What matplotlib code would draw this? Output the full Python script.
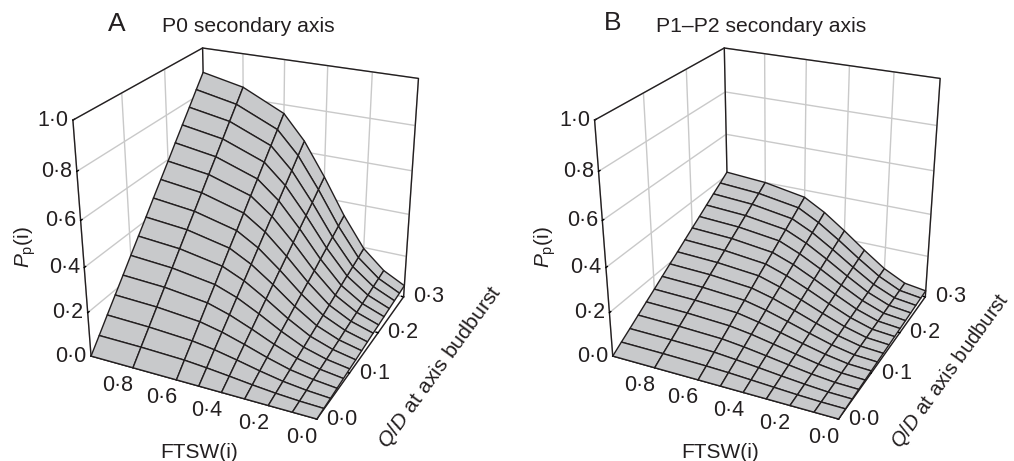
import numpy as np
import matplotlib
matplotlib.use('Agg')
import matplotlib.pyplot as plt
from matplotlib.ticker import NullFormatter
from mpl_toolkits.mplot3d import proj3d

plt.rcParams['font.family'] = ['Liberation Sans', 'DejaVu Sans']
plt.rcParams['mathtext.fontset'] = 'custom'
plt.rcParams['mathtext.rm'] = 'Liberation Sans'
plt.rcParams['mathtext.it'] = 'Liberation Sans:italic'

ftsw = [1.0, 0.8, 0.6, 0.5, 0.4, 0.3, 0.2, 0.1, 0.0]
qd = [0.0, 0.02, 0.04, 0.06, 0.08, 0.10, 0.12, 0.14, 0.16, 0.18, 0.20, 0.22, 0.24, 0.26, 0.28, 0.30]

# rows are qd, columns are ftsw
p0_axis = [
    [0.000, 0.000, 0.000, 0.000, 0.000, 0.000, 0.000, 0.000, 0.000],
    [0.059, 0.057, 0.051, 0.043, 0.033, 0.022, 0.013, 0.007, 0.004],
    [0.119, 0.113, 0.101, 0.087, 0.067, 0.045, 0.026, 0.014, 0.007],
    [0.178, 0.170, 0.152, 0.130, 0.100, 0.067, 0.039, 0.022, 0.011],
    [0.237, 0.227, 0.203, 0.173, 0.133, 0.089, 0.052, 0.029, 0.015],
    [0.297, 0.283, 0.253, 0.217, 0.167, 0.112, 0.065, 0.036, 0.019],
    [0.356, 0.340, 0.304, 0.260, 0.200, 0.134, 0.078, 0.043, 0.022],
    [0.415, 0.397, 0.355, 0.303, 0.233, 0.156, 0.091, 0.050, 0.026],
    [0.475, 0.453, 0.405, 0.347, 0.267, 0.179, 0.104, 0.058, 0.030],
    [0.534, 0.510, 0.456, 0.390, 0.300, 0.201, 0.117, 0.065, 0.034],
    [0.593, 0.567, 0.507, 0.433, 0.333, 0.223, 0.130, 0.072, 0.037],
    [0.653, 0.623, 0.557, 0.477, 0.367, 0.246, 0.143, 0.079, 0.041],
    [0.712, 0.680, 0.608, 0.520, 0.400, 0.268, 0.156, 0.086, 0.045],
    [0.771, 0.737, 0.659, 0.563, 0.433, 0.290, 0.169, 0.094, 0.049],
    [0.831, 0.793, 0.709, 0.607, 0.467, 0.313, 0.182, 0.101, 0.052],
    [0.890, 0.850, 0.760, 0.650, 0.500, 0.335, 0.195, 0.108, 0.056],
]
p1_axis = [
    [0.000, 0.000, 0.000, 0.000, 0.000, 0.000, 0.000, 0.000, 0.000],
    [0.028, 0.027, 0.024, 0.021, 0.016, 0.011, 0.006, 0.003, 0.002],
    [0.055, 0.053, 0.049, 0.041, 0.032, 0.022, 0.013, 0.006, 0.004],
    [0.083, 0.080, 0.073, 0.062, 0.048, 0.033, 0.019, 0.009, 0.006],
    [0.111, 0.107, 0.097, 0.083, 0.064, 0.044, 0.025, 0.012, 0.008],
    [0.138, 0.133, 0.122, 0.103, 0.080, 0.055, 0.032, 0.015, 0.010],
    [0.166, 0.160, 0.146, 0.124, 0.096, 0.066, 0.038, 0.018, 0.012],
    [0.194, 0.187, 0.170, 0.145, 0.112, 0.077, 0.044, 0.021, 0.014],
    [0.221, 0.213, 0.195, 0.165, 0.128, 0.088, 0.051, 0.024, 0.016],
    [0.249, 0.240, 0.219, 0.186, 0.144, 0.099, 0.057, 0.027, 0.018],
    [0.277, 0.267, 0.243, 0.207, 0.160, 0.110, 0.063, 0.030, 0.020],
    [0.304, 0.293, 0.268, 0.227, 0.176, 0.121, 0.070, 0.033, 0.022],
    [0.332, 0.320, 0.292, 0.248, 0.192, 0.132, 0.076, 0.036, 0.024],
    [0.360, 0.347, 0.316, 0.269, 0.208, 0.143, 0.082, 0.039, 0.026],
    [0.387, 0.373, 0.341, 0.289, 0.224, 0.154, 0.089, 0.042, 0.028],
    [0.415, 0.400, 0.365, 0.310, 0.240, 0.165, 0.095, 0.045, 0.030],
]

ftsw_ticks = [0.0, 0.2, 0.4, 0.6, 0.8]
qd_ticks = [0.0, 0.1, 0.2, 0.3]
p_ticks = [0.0, 0.2, 0.4, 0.6, 0.8, 1.0]

W, H = 1014, 461
ink = '#231f20'


def dot_label(v):
    return f'{v:.1f}'.replace('.', '\u00b7')


def tick_text(ax, x, y, z, v, dx, dy):
    # label sits a fixed number of pixels away from its tick
    px, py, _ = proj3d.proj_transform(x, y, z, ax.get_proj())
    ax.annotate(dot_label(v), (px, py), xytext=(dx, dy), textcoords='offset pixels',
                ha='center', va='center', fontsize=15.5, color=ink, annotation_clip=False)


def draw_panel(fig, left, values):
    ax = fig.add_axes([left / W, 7 / H, 461 / W, 461 / H], projection='3d')
    ax.patch.set_alpha(0)
    ax.computed_zorder = False
    F, Q = np.meshgrid(ftsw, qd)
    ax.plot_surface(F, Q, np.array(values), color='#c8c9cb', edgecolor=ink,
                    linewidth=1.0, shade=False, rstride=1, cstride=1, zorder=3)

    fmax = ftsw[0]
    qmax = qd[-1]
    ax.set_xlim(fmax, 0.0, view_margin=0)
    ax.set_ylim(0.0, qmax, view_margin=0)
    ax.set_zlim(0.0, 1.0, view_margin=0)
    ax.set_proj_type('persp', focal_length=0.434)
    ax.view_init(elev=25.5, azim=-64.5)
    ax.set_box_aspect((112, 114, 115), zoom=0.904)

    ax.set_xticks(ftsw_ticks)
    ax.set_yticks(qd_ticks)
    ax.set_zticks(p_ticks)
    ax.zaxis.set_ticks_position('lower')
    for axis in (ax.xaxis, ax.yaxis, ax.zaxis):
        axis.set_major_formatter(NullFormatter())
        axis.pane.set_facecolor('white')
        axis.pane.set_edgecolor('white')
        axis.line.set_color(ink)
        axis.line.set_linewidth(1.0)
        axis._axinfo['grid'].update(color='#c9c9c9', linewidth=1.0)
        axis._axinfo['tick'].update(inward_factor=0.0, outward_factor=0.12, color=ink)
        axis._axinfo['tick']['linewidth'] = {True: 1.0, False: 0.5}

    # dark outline of the two back walls
    ax.plot([fmax, fmax, 0.0, 0.0], [0.0, qmax, qmax, qmax], [1.0, 1.0, 1.0, 0.0], color=ink, lw=1.0, zorder=1)
    ax.plot([fmax, fmax], [qmax, qmax], [0.0, 1.0], color=ink, lw=1.0, zorder=1)

    for v in ftsw_ticks:
        tick_text(ax, v, 0.0, 0.0, v, -15, -18)
    for v in qd_ticks:
        tick_text(ax, 0.0, v, 0.0, v, 25, 0)
    for v in p_ticks:
        tick_text(ax, fmax, 0.0, v, v, -20, 0)
    return ax


fig = plt.figure(figsize=(W / 100, H / 100), dpi=100)
draw_panel(fig, 18, p0_axis)
draw_panel(fig, 539.7, p1_axis)

# x, y pixel spots of the panel texts
letters = [('A', 108, 24), ('B', 604, 23)]
titles = [('P0 secondary axis', 162, 27), ('P1\u2013P2 secondary axis', 656, 27)]
x_labels = [199, 720.5]
p_labels = [25, 545.5]
q_labels = [(440, 367, 15.3), (950, 371, 14.6)]

for text, x, y in letters:
    fig.text(x / W, 1 - y / H, text, fontsize=19, color=ink, va='center')
for text, x, y in titles:
    fig.text(x / W, 1 - y / H, text, fontsize=15.2, color=ink, va='center')
for x in x_labels:
    fig.text(x / W, 1 - 452 / H, 'FTSW(i)', fontsize=15, color=ink, ha='center', va='center')
for x in p_labels:
    fig.text(x / W, 1 - 247 / H, r'$\mathit{P}_{\mathrm{p}}$(i)', fontsize=15, color=ink,
             rotation=90, ha='center', va='center')
for x, y, size in q_labels:
    fig.text(x / W, 1 - y / H, r'$\mathit{Q/D}$ at axis budburst', fontsize=size, color=ink,
             rotation=54, ha='center', va='center', rotation_mode='anchor')

fig.savefig('out.png', dpi=100)
